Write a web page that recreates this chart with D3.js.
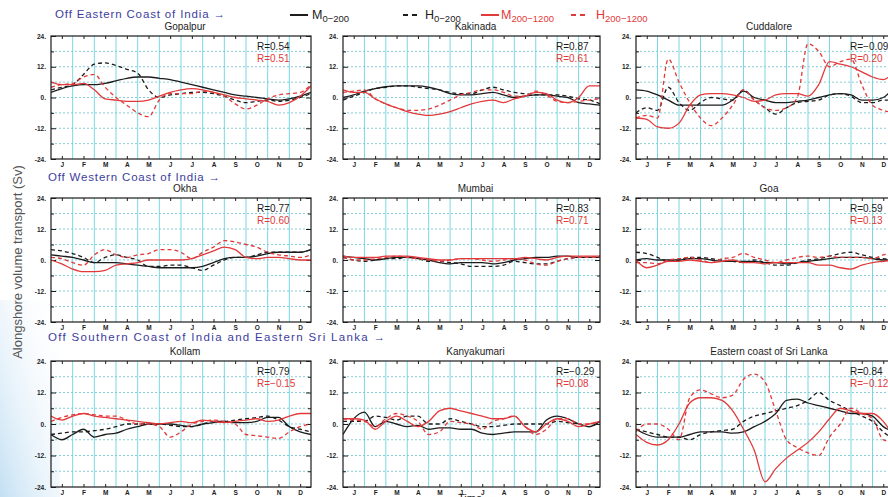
<!DOCTYPE html>
<html><head><meta charset="utf-8">
<script src="https://cdn.jsdelivr.net/npm/d3@7"></script>
<style>
body{margin:0;background:#fff;}
svg{display:block;font-family:"Liberation Sans",Arial,sans-serif;}
</style>
</head><body>
<svg id="c" width="888" height="497"></svg>
<script>
// ---------------- DATA ----------------
const months = ["J","F","M","A","M","J","J","A","S","O","N","D"];
const yTickValues = [-24,-18,-12,-6,0,6,12,18,24];
const stations = ["Gopalpur","Kakinada","Cuddalore","Okha","Mumbai","Goa","Kollam","Kanyakumari","Eastern coast of Sri Lanka"];
const rBlack = ["R=0.54","R=0.87","R=\u22120.09","R=0.77","R=0.83","R=0.59","R=0.79","R=\u22120.29","R=0.84"];
const rRed   = ["R=0.51","R=0.61","R=0.20","R=0.60","R=0.71","R=0.13","R=\u22120.15","R=0.08","R=\u22120.12"];
const sections = ["Off Eastern Coast of India \u2192","Off Western Coast of India \u2192","Off Southern Coast of India and Eastern Sri Lanka \u2192"];
const legendNames = ["M","H","M","H"];
const legendSubs = ["0\u2212200","0\u2212200","200\u22121200","200\u22121200"];

// values every half month, Jan 1 .. Dec 31 (25 points), Sv
const gopalpurM0   = [2,3.5,4.5,5,5,5.5,6.5,7.5,8,8,7.5,7,6,5,4,3,2,1,0.5,0,-0.5,-1,-0.5,0.5,2];
const gopalpurH0   = [3,4,5,9,13,13.5,12.5,11,9.5,3,0,1,1.5,2,2,1.5,0.5,-1,-2,-1.5,-1,-1.5,-1,0,1.5];
const gopalpurM200 = [6,5,5,5.5,3,-0.5,-1,-1.5,-1.5,-1,0.5,2,3,3.5,3,2,1,0,-0.5,-1,-1.5,-3,-2,0.5,4.5];
const gopalpurH200 = [4,5,5.5,8,9,4,0,-3,-6,-7.5,-1,1.5,1.5,1.5,2.5,2,0.5,-2.5,-4.5,-3,-0.5,1,1.5,2,5];

const kakinadaM0   = [0,1,2.5,3.5,4.2,4.5,4.5,4.5,4,3,1.5,1,1,1.5,2,1,0,0.5,1,1,0.5,0,-2,-2.5,-3];
const kakinadaH0   = [-1,0.5,2,3.5,4,4.5,4.5,4,3.5,3,2,1.5,1.5,3,4,3,2,1.5,1,1,1,0.5,-0.5,-1,-2.5];
const kakinadaM200 = [3,2,2,-0.5,-2.5,-4,-5.5,-6.5,-7,-6.5,-5.5,-4,-2.5,-1.5,-1,-2,-0.5,0.5,2,1.5,-1,-2,0,4.5,4.5];
const kakinadaH200 = [2,2.5,3,-0.5,-2.5,-4,-5,-5,-4.5,-3,-1,1,2,3,3,2,0.5,0.5,2.5,1,-1.5,-2,-1.5,-1,-0.5];

const cuddaloreM0   = [3,2.5,1,-1,-3,-3,-3,-3,-3,-1,2.5,0,-1,-2,-2,-1.5,-1,0,1,1.5,1,-1,-1,0,4];
const cuddaloreH0   = [-6,-4,-5,4,-2,-5,-2,0,-0.5,-1,3,-1,-4,-6.5,-4,-2,-1.5,-1,1,1.5,0.5,-2,-2,-1,-1];
const cuddaloreM200 = [-8,-8.5,-11.5,-12,-10,-3,1,1.5,1.5,1,0,-1.5,-1,1,1.5,1.5,0.5,5,14,13,12,10,8,7,10];
const cuddaloreH200 = [-8,-7,-8,15,6,-2,-8,-11,-8,-3,3,-1,-4,-5,-4,0,21,18,12,14,15,5,-3,-5,-6];

const okhaM0   = [2,1.5,1,0,-1,-1,-1,-1.5,-2,-2.5,-3,-3,-3,-3,-2.5,-1,0.5,1,1,1.5,2.5,3,3,3,4];
const okhaH0   = [4,3.5,2.5,1,-1,1,2,1,0,-2.5,-2.5,-2,-2,-3,-4,-2,0,1,1,2,3,3,3,3,4];
const okhaM200 = [0,-1.5,-3.5,-4.5,-4.5,-4,-2,-1.5,-1,0,0,0,0,0.5,2,3.5,5,4,1,0.5,1,1,0.5,0,0];
const okhaH200 = [1,0.5,-1,-2,2,4,2,1,2,2.5,4,4,3,0.5,3,5,7.5,7,6,5,3,2,1.5,1,2];

const mumbaiM0   = [1.5,1,0.5,0,0.5,1,1,0.5,0,-1,-1.5,-1,-1,-1,-1.5,-1,0,0.5,1,1,1.5,1.5,1,1,1];
const mumbaiH0   = [1,0,-0.5,0,0.5,0.5,1,0.5,-0.5,-0.5,-1,-1.5,-2.5,-2.5,-2.5,-2,-0.5,-1,-1.5,-1.5,-0.5,0.5,1,1,1.5];
const mumbaiM200 = [1.5,1,1,1,1.5,1.5,1.5,1,0.5,0,0,0.5,0.5,0.5,0.5,0.5,0.5,1,0.5,0,1,1.5,1.5,1.5,1.5];
const mumbaiH200 = [1,0,0,0.5,1,1.5,1,0.5,0,-0.5,0,0.5,0.5,0,-0.5,0,0.5,0,-1.5,-2,-0.5,0.5,1,1,1];

const goaM0   = [0,0.5,0,0,0,0.5,0.5,0,-0.5,-0.5,-0.5,-0.5,-1,-1,-1.5,-1,-0.5,0,0.5,1,1,1,0.5,0,0];
const goaH0   = [3,2.5,1,-0.5,0,1,1,0.5,0,-0.5,-1,0,-1,-2,-2,-1,0,0.5,1.5,2.5,3,2,1,0.5,0];
const goaM200 = [0,-3,-2,-0.5,-0.5,0,-0.5,-1,-0.5,0,-1,-1,-1.5,-1,-1,-1,-1,-2,-2,-3,-3.5,-2,-1,-0.5,0];
const goaH200 = [-1,-1,-1.5,0,0.5,1,0,-1,0.5,1,2.5,1,0,-1,0,1,1.5,1,1.5,1,1,1,0.5,2,2.5];

const kollamM0   = [-4,-6,-4,-2,-5,-4,-3.5,-2,-1,0,0,0,-0.5,-1,0,0.5,1,0.5,0.5,1,2.5,2.5,-1,-3,-4];
const kollamH0   = [-4,-3.5,-3,-3,-2.5,-2,-1,0,0,0,0,-0.5,-1,-1,0,1,1,1.5,2,2.5,3,1.5,-1,-2,-3];
const kollamM200 = [3,1.5,3,4,3,2.5,2,1.5,1,0.5,0,0.5,1,0.5,1.5,1,0.5,1,1.5,2,1,1.5,3,4,4];
const kollamH200 = [1,2.5,3.5,4,3.5,3,3,1.5,0,0,-1,-5,-3,0,1,1.5,1,0,-4,-4.5,-5,-5.5,-3,-1,0];

const kanyakumariM0   = [-4,2,4.5,-1,1,0,-1,-0.5,-2,-1.5,-1.5,-2,-2,-3.5,-4,-3.5,-3,-3,-3,1.5,3,2,0,-1,1];
const kanyakumariH0   = [1,1,1,3,2.5,1.5,3,3,0,0,2,1,0,-1,-1,-0.5,0,0,0,0,1,0.5,0,-1,1];
const kanyakumariM200 = [2,2,1.5,-2,1,3,1,-1,1,5,6,5,4,3,2,2,3,-1,-3,0,2,1,-1,0,1];
const kanyakumariH200 = [2,1.5,1,-1,2,4,3,1,-4,-3,1,0.5,0,-2,1,2,3,-1,-4,-2,2,2,0,0,1];

const sriLankaM0   = [-2,-4,-5,-5,-5,-4,-3,-3,-3,-3.5,-3,-1,1,4,9,9.5,8,7,6,5,4,4,3,-1,-3];
const sriLankaH0   = [-2,-3,-4,-5,-5,-6,-4,-3,-2.5,-2,1,3,4,5,6,7,9,12,9,7,5,3,1,-3,-6];
const sriLankaM200 = [-4,-7,-8,-6,0,8,10,10,9,5,-2,-10,-22,-17,-13,-10,-7,-3,2,6,5,4,4,1,-5];
const sriLankaH200 = [-3,0,0,-2,-6,10,13,11.5,10,11,17,19,16,5,-6,-9,-11,-12,-5,0,6,4,2,-6,-7];

const panelSeries = [
  [gopalpurM0, gopalpurH0, gopalpurM200, gopalpurH200],
  [kakinadaM0, kakinadaH0, kakinadaM200, kakinadaH200],
  [cuddaloreM0, cuddaloreH0, cuddaloreM200, cuddaloreH200],
  [okhaM0, okhaH0, okhaM200, okhaH200],
  [mumbaiM0, mumbaiH0, mumbaiM200, mumbaiH200],
  [goaM0, goaH0, goaM200, goaH200],
  [kollamM0, kollamH0, kollamM200, kollamH200],
  [kanyakumariM0, kanyakumariH0, kanyakumariM200, kanyakumariH200],
  [sriLankaM0, sriLankaH0, sriLankaM200, sriLankaH200]
];

// ---------------- STYLE / LAYOUT ----------------
const BLACK = "#1c1c1c", RED = "#e2393a", BLUE = "#3d3d9e";
const seriesStyle = [
  {color: BLACK, dash: null},
  {color: BLACK, dash: "4,3"},
  {color: RED, dash: null},
  {color: RED, dash: "4,3"}
];
const colLeft = [51, 343, 636], colW = [260, 257, 258];
const rowTop = [36, 198, 361], rowH = [123, 124, 126];
const rLabelX = [257, 556, 850];

const svg = d3.select("#c");
const defs = svg.append("defs");

// soft blue background tint at lower-left
const grad = defs.append("linearGradient").attr("id","tint").attr("x1","0").attr("y1","1").attr("x2","1").attr("y2","0");
grad.append("stop").attr("offset","0").attr("stop-color","#bcdcf2").attr("stop-opacity",0.9);
grad.append("stop").attr("offset","1").attr("stop-color","#ffffff").attr("stop-opacity",0);
svg.append("rect").attr("x",0).attr("y",300).attr("width",60).attr("height",197).attr("fill","url(#tint)");

stations.forEach((name, k) => {
  const r = Math.floor(k / 3), c = k % 3;
  const L = colLeft[c], T = rowTop[r], W = colW[c], H = rowH[r];
  const x = d3.scaleLinear().domain([0, 12]).range([L, L + W]);
  const y = d3.scaleLinear().domain([-24, 24]).range([T + H, T]);
  const g = svg.append("g");

  defs.append("clipPath").attr("id", "clip" + k)
    .append("rect").attr("x", L).attr("y", T).attr("width", W).attr("height", H);

  // grid
  g.append("g").selectAll("line").data(d3.range(1, 12)).join("line")
    .attr("x1", d => x(d)).attr("x2", d => x(d)).attr("y1", T).attr("y2", T + H)
    .attr("stroke", "#79d8e4").attr("stroke-width", 1);
  g.append("g").selectAll("line").data(yTickValues.filter(v => Math.abs(v) < 24)).join("line")
    .attr("x1", L).attr("x2", L + W).attr("y1", d => y(d)).attr("y2", d => y(d))
    .attr("stroke", "#86cdd6").attr("stroke-width", 1).attr("stroke-dasharray", "2,2");

  // axes
  const styleAxis = a => {
    a.select(".domain").remove();
    a.attr("font-family", null).attr("font-size", null);
    a.selectAll("line").attr("stroke", BLACK);
    a.selectAll("text").attr("font-size", "6.5px").attr("font-weight", "bold").attr("fill", BLACK);
  };
  g.append("g").attr("transform", `translate(${L},0)`)
    .call(d3.axisLeft(y).tickValues(yTickValues).tickSize(-3).tickPadding(5)
      .tickFormat(d => d % 12 === 0 ? d + "." : ""))
    .call(styleAxis)
    .call(a => a.selectAll(".tick line").filter(d => d % 12 === 0).attr("x2", 5));
  g.append("g").attr("transform", `translate(${L + W},0)`)
    .call(d3.axisRight(y).tickValues(yTickValues).tickSize(-3).tickFormat(""))
    .call(styleAxis)
    .call(a => a.selectAll(".tick line").filter(d => d % 12 === 0).attr("x2", -5));
  g.append("g").attr("transform", `translate(0,${T + H})`)
    .call(d3.axisBottom(x).tickValues(d3.range(0.5, 12, 1)).tickSize(-3).tickPadding(3)
      .tickFormat((d, i) => months[i]))
    .call(styleAxis);
  g.append("g").attr("transform", `translate(0,${T})`)
    .call(d3.axisTop(x).tickValues(d3.range(0.5, 12, 1)).tickSize(-3).tickFormat(""))
    .call(styleAxis);

  // series
  const lg = g.append("g").attr("clip-path", `url(#clip${k})`);
  panelSeries[k].forEach((arr, s) => {
    const n = arr.length;
    const line = d3.line()
      .x((d, i) => x(i * 12 / (n - 1)))
      .y(d => y(d))
      .curve(d3.curveMonotoneX);
    lg.append("path").datum(arr).attr("d", line)
      .attr("fill", "none").attr("stroke", seriesStyle[s].color)
      .attr("stroke-width", 1.3)
      .attr("stroke-dasharray", seriesStyle[s].dash);
  });

  // frame
  g.append("rect").attr("x", L).attr("y", T).attr("width", W).attr("height", H)
    .attr("fill", "none").attr("stroke", BLACK).attr("stroke-width", 1.2);

  // title
  g.append("text").attr("x", L + W / 2 + 4).attr("y", T - 9)
    .attr("text-anchor", "middle").attr("dominant-baseline", "middle")
    .attr("font-size", "10px").attr("fill", BLACK).text(name);

  // correlations
  g.append("text").attr("x", rLabelX[c]).attr("y", T + 11).attr("dominant-baseline", "middle")
    .attr("font-size", "10px").attr("fill", BLACK).text(rBlack[k]);
  g.append("text").attr("x", rLabelX[c]).attr("y", T + 23).attr("dominant-baseline", "middle")
    .attr("font-size", "10px").attr("fill", RED).text(rRed[k]);
});

// section headers
const secPos = [[55, 15, 170], [48, 178, 172], [48, 338, 337]];
sections.forEach((s, i) => {
  svg.append("text").attr("x", secPos[i][0]).attr("y", secPos[i][1])
    .attr("dominant-baseline", "middle").attr("font-size", "11.5px")
    .attr("fill", BLUE).attr("textLength", secPos[i][2]).attr("lengthAdjust", "spacing")
    .text(s);
});

// legend
const legPos = [[290, 312], [403, 425], [481, 501], [571, 596]];
legendNames.forEach((nm, i) => {
  const st = seriesStyle[i];
  const [lx, tx] = legPos[i];
  svg.append("line").attr("x1", lx).attr("x2", lx + 18).attr("y1", 15).attr("y2", 15)
    .attr("stroke", st.color).attr("stroke-width", 2)
    .attr("stroke-dasharray", st.dash ? "5,4" : null);
  const t = svg.append("text").attr("x", tx).attr("y", 19).attr("font-size", "12.5px").attr("fill", st.color);
  t.append("tspan").text(nm);
  t.append("tspan").attr("dy", 3).attr("font-size", "9.5px").text(legendSubs[i]);
});

// axis titles
svg.append("text").attr("transform", "translate(19,262) rotate(-90)")
  .attr("text-anchor", "middle").attr("dominant-baseline", "middle")
  .attr("font-size", "13px").attr("fill", "#555").text("Alongshore volume transport (Sv)");
svg.append("text").attr("x", 470).attr("y", 502).attr("text-anchor", "middle")
  .attr("font-size", "11px").attr("fill", BLACK).text("Time");
</script>
</body></html>
